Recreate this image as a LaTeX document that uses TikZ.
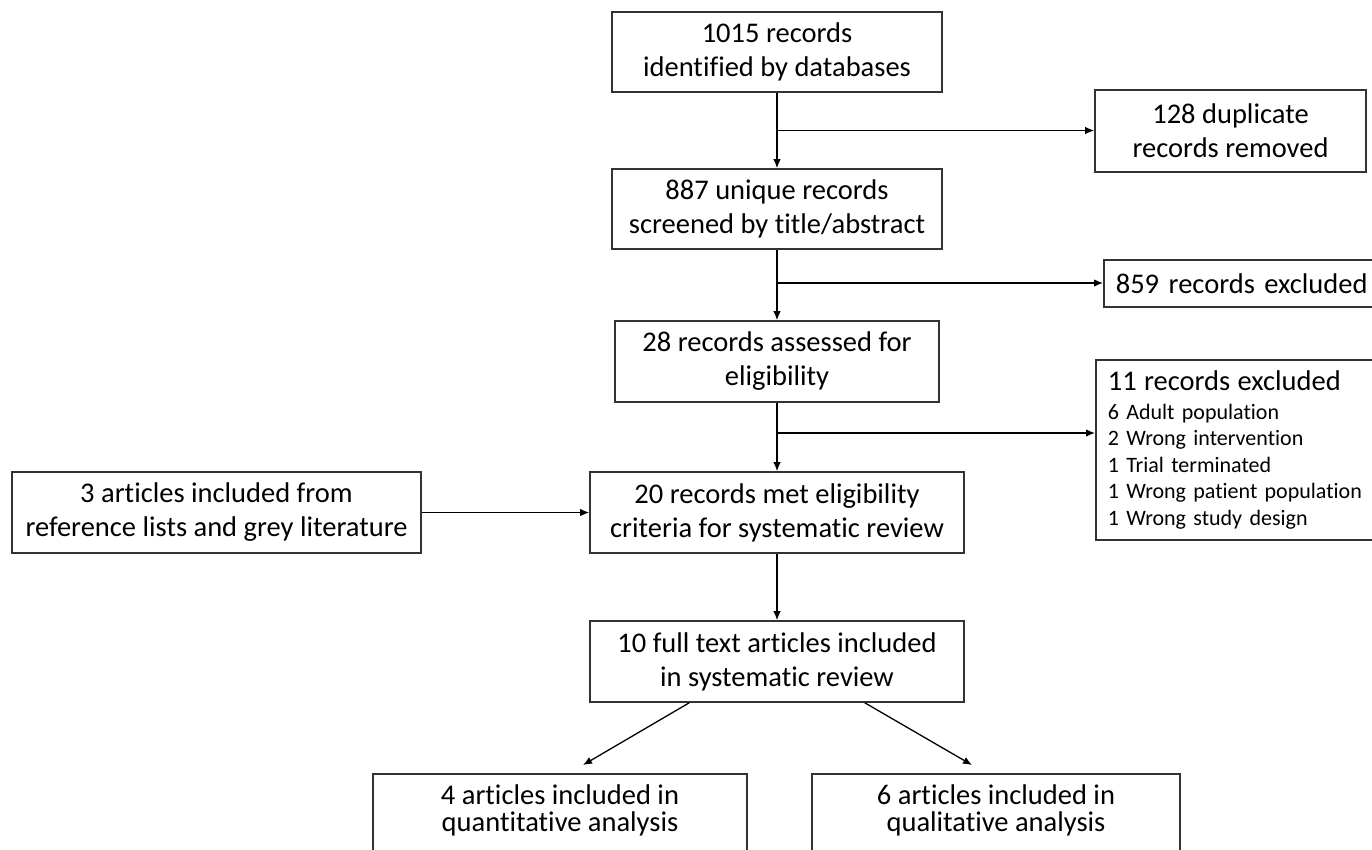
\documentclass[tikz,border=0pt]{standalone}
\usepackage{fontspec}
\setmainfont{Carlito}[Ligatures={NoCommon,NoRequired,NoContextual}]
\usepackage{tikz}
\usetikzlibrary{arrows.meta}

\begin{document}
\begin{tikzpicture}[x=1pt,y=-1pt]
            \useasboundingbox[fill=white] (0,0) rectangle (1372,849);
            \begin{scope}[every node/.style={draw=black!80,line width=1.6pt,rectangle,inner sep=0pt,align=center,font=\fontsize{28.5}{34}\selectfont}]
                \node[minimum width=330pt,minimum height=80pt] (1) at (777,52) {1015 records\\identified by databases};
                \node[minimum width=330pt,minimum height=80pt] (2) at (777,209) {887 unique records\\screened by title/abstract};
                \node[minimum width=324pt,minimum height=81pt] (3) at (777,361.5) {28 records assessed for\\eligibility};
                \node[minimum width=374pt,minimum height=81pt] (4) at (777,512.5) {20 records met eligibility\\criteria for systematic review};
                \node[minimum width=374pt,minimum height=81pt] (5) at (777,661.5) {10 full text articles included\\in systematic review};

                \node[minimum width=271pt,minimum height=82pt] (6) at (1230.5,131) {128 duplicate\\records removed};
                \node[anchor=west,text width=276pt,inner xsep=12pt,minimum height=47pt,align=left] (7) at (1103,283.5) {859 records excluded};
                \node[anchor=north west,text width=296pt,inner xsep=12pt,minimum height=180pt,align=left,font=\fontsize{22}{26.5}\selectfont] (8) at (1095,359) {{\fontsize{28.5}{34}\selectfont 11 records excluded}\\[2.5pt]6 Adult population\\2 Wrong intervention\\1 Trial terminated\\1 Wrong patient population\\1 Wrong study design};

                \node[minimum width=409pt,minimum height=81pt] (9) at (216.5,512.5) {3 articles included from\\reference lists and grey literature};

                \node[anchor=north,minimum width=374pt,inner ysep=11pt,font=\fontsize{28.5}{27}\selectfont] (10) at (560,773) {4 articles included in\\quantitative analysis\rule[-80pt]{0pt}{0pt}};
                \node[anchor=north,minimum width=368pt,inner ysep=11pt,font=\fontsize{28.5}{27}\selectfont] (11) at (996,773) {6 articles included in\\qualitative analysis\rule[-80pt]{0pt}{0pt}};
            \end{scope}
            \coordinate (12) at (777,130.5);
            \coordinate (23) at (777,283);
            \coordinate (34) at (777,433);
            \coordinate (510) at (583,765);
            \coordinate (511) at (972,765);
            \begin{scope}[>={Latex[length=9pt,width=7.5pt]},every edge/.style={draw,line width=1.3pt}]
                \path [->] (1) edge (2);
                \path [->] (2) edge (3);
                \path [->] (3) edge (4);
                \path [->] (4) edge (5);

                \path [->] (12) edge (6.west |- 12);
                \path [->] (23) edge (7.west |- 23);
                \path [->] (34) edge (8.west |- 34);

                \path [->] (9) edge (4);

                \path [->] ([xshift=100pt]5.south west) edge (510);
                \path [->] ([xshift=-100pt]5.south east) edge (511);
            \end{scope}
        \end{tikzpicture}
\end{document}
